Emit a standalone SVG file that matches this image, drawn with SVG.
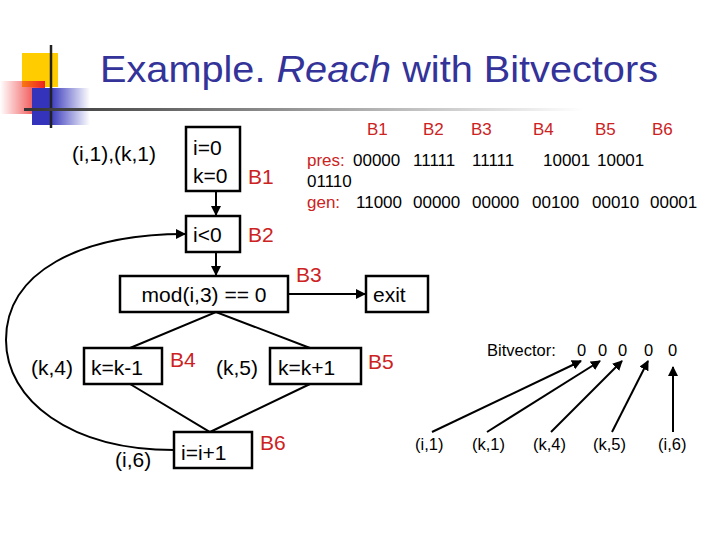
<svg xmlns="http://www.w3.org/2000/svg" width="720" height="540" viewBox="0 0 720 540">
<defs>
<linearGradient id="red" x1="1" y1="0" x2="0" y2="0"><stop offset="0" stop-color="#ee2222"/><stop offset="1" stop-color="#ee2222" stop-opacity="0"/></linearGradient>
<linearGradient id="blue" x1="0" y1="0" x2="1" y2="0"><stop offset="0.3" stop-color="#3333bb"/><stop offset="1" stop-color="#3333bb" stop-opacity="0"/></linearGradient>
<linearGradient id="rule" x1="0" y1="0" x2="1" y2="0"><stop offset="0" stop-color="#333"/><stop offset="1" stop-color="#fff"/></linearGradient>
<marker id="ah" viewBox="0 0 10 10" refX="9" refY="5" markerWidth="5" markerHeight="5" orient="auto"><path d="M0,0 L10,5 L0,10 z" fill="#000"/></marker>
<style>
text{font-family:"Liberation Sans",Arial,sans-serif;}
.b{fill:#fff;stroke:#000;stroke-width:2.5;}
.t{font-size:21px;fill:#000;}
.r{font-size:21px;fill:#cc2222;}
.s{font-size:17px;fill:#000;}
.sr{font-size:17px;fill:#cc2222;}
.v{font-size:16.5px;fill:#000;}
.c{stroke:#000;stroke-width:2;fill:none;}
</style>
</defs>
<g id="logo">
<rect x="22" y="53" width="36" height="34" fill="#ffcc00"/>
<rect x="0" y="81" width="45" height="33" fill="url(#red)"/>
<rect x="32" y="88" width="58" height="37" fill="url(#blue)"/>
<line x1="51" y1="45" x2="51" y2="128" stroke="#222" stroke-width="2.5"/>
<rect x="24" y="108" width="560" height="3" fill="url(#rule)"/>
</g>
<text x="100" y="82" style="font-size:37px;fill:#333399" textLength="558" lengthAdjust="spacingAndGlyphs">Example. <tspan font-style="italic">Reach</tspan> with Bitvectors</text>
<g id="table">
<text x="367" y="135" class="sr">B1</text><text x="423" y="135" class="sr">B2</text><text x="471" y="135" class="sr">B3</text><text x="533" y="135" class="sr">B4</text><text x="595" y="135" class="sr">B5</text><text x="652" y="135" class="sr">B6</text>
<text x="307" y="166" class="sr">pres:</text>
<text x="353" y="166" class="s">00000</text><text x="413" y="166" class="s">11111</text><text x="472" y="166" class="s">11111</text><text x="543" y="166" class="s">10001</text><text x="597" y="166" class="s">10001</text>
<text x="307" y="187" class="s">01110</text>
<text x="307" y="208" class="sr">gen:</text>
<text x="356" y="208" class="s">11000</text><text x="413" y="208" class="s">00000</text><text x="472" y="208" class="s">00000</text><text x="532" y="208" class="s">00100</text><text x="592" y="208" class="s">00010</text><text x="650" y="208" class="s">00001</text>
</g>
<g id="connectors">
<line x1="216" y1="191" x2="216" y2="215" class="c" marker-end="url(#ah)"/>
<line x1="216" y1="252" x2="216" y2="275" class="c" marker-end="url(#ah)"/>
<line x1="288" y1="294" x2="365" y2="294" class="c" marker-end="url(#ah)"/>
<polyline points="130,348 216,312 310,348" class="c"/>
<polyline points="130,384 210,432 310,384" class="c"/>
<path d="M174,450 C70,450 6,400 6,340 C6,272 80,234 185,234" class="c" marker-end="url(#ah)"/>
<line x1="432" y1="432" x2="581" y2="361" class="c" marker-end="url(#ah)"/>
<line x1="487" y1="432" x2="600" y2="361" class="c" marker-end="url(#ah)"/>
<line x1="551" y1="432" x2="622" y2="361" class="c" marker-end="url(#ah)"/>
<line x1="612" y1="432" x2="648" y2="361" class="c" marker-end="url(#ah)"/>
<line x1="673" y1="432" x2="673" y2="367" class="c" marker-end="url(#ah)"/>
</g>
<g id="B1"><rect x="186" y="127" width="54" height="64" class="b"/><text x="193" y="155" class="t">i=0</text><text x="193" y="183" class="t">k=0</text><text x="248" y="184" class="r">B1</text><text x="72" y="161" class="t">(i,1),(k,1)</text></g>
<g id="B2"><rect x="186" y="216" width="54" height="36" class="b"/><text x="193" y="242" class="t">i&lt;0</text><text x="248" y="242" class="r">B2</text></g>
<g id="B3"><rect x="120" y="276" width="168" height="36" class="b"/><text x="204" y="302" class="t" text-anchor="middle">mod(i,3) == 0</text><text x="296" y="282" class="r">B3</text></g>
<g id="exit"><rect x="366" y="276" width="62" height="36" class="b"/><text x="373" y="302" class="t">exit</text></g>
<g id="B4"><rect x="84" y="348" width="78" height="36" class="b"/><text x="91" y="375" class="t">k=k-1</text><text x="170" y="367" class="r">B4</text><text x="31" y="375" class="t">(k,4)</text></g>
<g id="B5"><rect x="270" y="348" width="91" height="36" class="b"/><text x="278" y="375" class="t">k=k+1</text><text x="368" y="369" class="r">B5</text><text x="216" y="375" class="t">(k,5)</text></g>
<g id="B6"><rect x="174" y="432" width="78" height="36" class="b"/><text x="181" y="460" class="t">i=i+1</text><text x="260" y="450" class="r">B6</text><text x="115" y="467" class="t">(i,6)</text></g>
<g id="bitvector">
<text x="487" y="356" class="v">Bitvector:</text>
<text x="577" y="356" class="v">0</text><text x="598" y="356" class="v">0</text><text x="618" y="356" class="v">0</text><text x="644" y="356" class="v">0</text><text x="668" y="356" class="v">0</text>
<text x="415" y="450" class="v">(i,1)</text><text x="472" y="450" class="v">(k,1)</text><text x="533" y="450" class="v">(k,4)</text><text x="593" y="450" class="v">(k,5)</text><text x="658" y="450" class="v">(i,6)</text>
</g>
</svg>
